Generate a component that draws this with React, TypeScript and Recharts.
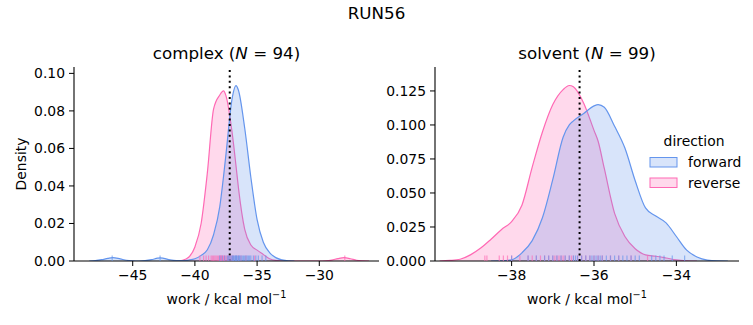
import React from 'react';
import { ComposedChart, Area, Scatter, XAxis, YAxis, ReferenceLine } from 'recharts';

const FONT = '"DejaVu Sans", sans-serif';
const BLUE = '#6495ED';
const PINK = '#FF69B4';

// complex leg: KDE curves
const complexX = [
  -48.5, -48, -47.5, -47, -46.6, -46, -45.5, -45, -44.5, -44, -43.5, -43, -42.8, -42.5, -42, -41.5,
  -41, -40.5, -40, -39.5, -39, -38.5, -38, -37.7, -37.5, -37, -36.7, -36.5, -36, -35.5, -35, -34.5,
  -34, -33.5, -33, -32.5, -32, -31, -30, -29.5, -29, -28.5, -28, -27.5, -27, -26.5, -26,
];
const complexForward = [
  0, 0.0002, 0.0007, 0.0014, 0.0018, 0.0011, 0.0004, 0.0001, 0, 0.0002, 0.0007, 0.0015, 0.0017, 0.0014, 0.0006, 0.0002,
  0.0002, 0.0005, 0.0012, 0.003, 0.006, 0.014, 0.029, 0.045, 0.057, 0.087, 0.0935, 0.091, 0.071, 0.0445, 0.022, 0.01,
  0.0045, 0.0018, 0.0006, 0.0001, 0, null, null, null, null, null, null, null, null, null, null,
];
const complexReverse = [
  null, null, null, null, null, null, null, null, null, null, null, null, null, null, null, 0,
  0.0004, 0.002, 0.0075, 0.02, 0.047, 0.081, 0.0885, 0.0907, 0.088, 0.068, 0.051, 0.039, 0.017, 0.0085, 0.0058, 0.0035,
  0.0012, 0.0003, 0.0001, 0, 0, 0, 0, 0.0001, 0.0005, 0.0013, 0.0018, 0.0012, 0.0004, 0.0001, 0,
];
const complexForwardRug = [
  -46.65, -42.8, -38.0, -37.8, -37.6, -37.4, -37.3, -37.2, -37.1, -37.0, -36.95, -36.9, -36.8, -36.75, -36.7,
  -36.65, -36.6, -36.5, -36.45, -36.4, -36.3, -36.2, -36.1, -36.0, -35.9, -35.8, -35.7, -35.6, -35.5, -35.3,
  -35.1, -34.9, -34.6, -34.3,
];
const complexReverseRug = [
  -39.6, -39.3, -39.1, -38.9, -38.7, -38.6, -38.5, -38.4, -38.3, -38.2, -38.1, -38.0, -37.95, -37.9, -37.85,
  -37.8, -37.7, -37.65, -37.6, -37.5, -37.4, -37.3, -37.2, -37.1, -37.0, -36.9, -36.7, -36.5, -36.3, -35.9,
  -35.2, -27.95,
];
const complexMean = -37.2;
const complexXTicks = [-45, -40, -35, -30];
const complexYTicks = [0, 0.02, 0.04, 0.06, 0.08, 0.1];

// solvent leg
const solventX = [
  -39.75, -39.5, -39.25, -39, -38.75, -38.5, -38.25, -38, -37.75, -37.5, -37.25, -37, -36.75, -36.6, -36.5, -36.25,
  -36, -35.9, -35.75, -35.5, -35.25, -35, -34.75, -34.5, -34.25, -34, -33.75, -33.5, -33.25, -33, -32.75,
];
const solventForward = [
  null, null, null, null, null, 0, 0.0001, 0.0008, 0.006, 0.015, 0.032, 0.06, 0.091, 0.1, 0.103, 0.1085,
  0.114, 0.115, 0.113, 0.099, 0.083, 0.059, 0.039, 0.033, 0.028, 0.018, 0.008, 0.003, 0.0007, 0.0001, 0,
];
const solventReverse = [
  0, 0.0004, 0.0013, 0.0045, 0.0095, 0.016, 0.023, 0.029, 0.041, 0.069, 0.095, 0.115, 0.126, 0.129, 0.128, 0.116,
  0.096, 0.088, 0.068, 0.035, 0.018, 0.009, 0.0045, 0.0035, 0.0022, 0.0008, 0.0002, 0, null, null, null,
];
const solventForwardRug = [
  -38.0, -37.6, -37.4, -37.2, -37.1, -37.0, -36.9, -36.8, -36.7, -36.6, -36.5, -36.45, -36.4, -36.3, -36.2,
  -36.1, -36.05, -36.0, -35.95, -35.9, -35.85, -35.8, -35.7, -35.6, -35.5, -35.4, -35.3, -35.2, -35.1, -35.0,
  -34.9, -34.6, -34.5, -34.4, -34.3, -34.1, -33.8,
];
const solventReverseRug = [
  -38.65, -38.6, -38.3, -38.2, -38.1, -38.0, -37.8, -37.6, -37.5, -37.4, -37.3, -37.2, -37.1, -37.0, -36.95,
  -36.9, -36.85, -36.8, -36.75, -36.7, -36.6, -36.55, -36.5, -36.4, -36.3, -36.2, -36.1, -36.0, -35.9, -35.8,
  -35.6, -35.4, -35.1, -34.7,
];
const solventMean = -36.35;
const solventXTicks = [-38, -36, -34];
const solventYTicks = [0, 0.025, 0.05, 0.075, 0.1, 0.125];

const minus = (v: number) => (v < 0 ? '\u2212' + Math.abs(v) : String(v));

function makeTable(xs: number[], fwd: (number | null)[], rev: (number | null)[]) {
  return xs.map((x, i) => ({ x, forward: fwd[i], reverse: rev[i] }));
}

const rugShape = (color: string) => (props: any) => (
  <line x1={props.cx} x2={props.cx} y1={props.cy} y2={props.cy - 5.5} stroke={color} strokeOpacity={0.65} strokeWidth={1.2} />
);

interface PanelProps {
  left: number;
  width: number;
  yAxisWidth: number;
  rightMargin: number;
  xDomain: [number, number];
  yDomain: [number, number];
  xTicks: number[];
  yTicks: number[];
  decimals: number;
  table: { x: number; forward: number | null; reverse: number | null }[];
  rugF: number[];
  rugR: number[];
  mean: number;
}

function Panel(p: PanelProps) {
  const tick = { fontSize: 13.9, fill: '#000', fontFamily: FONT };
  return (
    <div style={{ position: 'absolute', left: p.left, top: 0 }}>
      <ComposedChart
        width={p.width}
        height={325}
        data={p.table}
        margin={{ top: 67, right: p.rightMargin, bottom: 0, left: 0 }}
      >
        <Area type="monotone" dataKey="reverse" stroke={PINK} strokeWidth={1.2} fill={PINK} fillOpacity={0.25} connectNulls isAnimationActive={false} />
        <Area type="monotone" dataKey="forward" stroke={BLUE} strokeWidth={1.2} fill={BLUE} fillOpacity={0.25} connectNulls isAnimationActive={false} />
        <Scatter data={p.rugR.map((x) => ({ x, y: 0 }))} dataKey="y" shape={rugShape(PINK)} isAnimationActive={false} />
        <Scatter data={p.rugF.map((x) => ({ x, y: 0 }))} dataKey="y" shape={rugShape(BLUE)} isAnimationActive={false} />
        <ReferenceLine x={p.mean} stroke="#000" strokeWidth={2} strokeDasharray="2 3.4" />
        <XAxis
          type="number"
          dataKey="x"
          domain={p.xDomain}
          allowDataOverflow
          ticks={p.xTicks}
          tickFormatter={minus}
          height={64}
          tickSize={5}
          tickMargin={4}
          tick={tick}
          stroke="#000"
          tickLine={{ stroke: '#000' }}
          axisLine={{ stroke: '#000', strokeWidth: 1.1 }}
        />
        <YAxis
          type="number"
          domain={p.yDomain}
          allowDataOverflow
          ticks={p.yTicks}
          tickFormatter={(v: number) => v.toFixed(p.decimals)}
          width={p.yAxisWidth}
          tickSize={5}
          tickMargin={4}
          tick={tick}
          stroke="#000"
          tickLine={{ stroke: '#000' }}
          axisLine={{ stroke: '#000', strokeWidth: 1.1 }}
        />
      </ComposedChart>
    </div>
  );
}

export default function App() {
  const label = { fontFamily: FONT, fontSize: 13.9, fill: '#000' };
  const title = { fontFamily: FONT, fontSize: 16.7, fill: '#000' };
  return (
    <div style={{ position: 'absolute', left: 0, top: 0, width: 753, height: 325, background: '#fff', overflow: 'hidden' }}>
      <Panel
        left={0}
        width={390}
        yAxisWidth={74}
        rightMargin={11}
        xDomain={[-49.72, -25.2]}
        yDomain={[0, 0.1034]}
        xTicks={complexXTicks}
        yTicks={complexYTicks}
        decimals={2}
        table={makeTable(complexX, complexForward, complexReverse)}
        rugF={complexForwardRug}
        rugR={complexReverseRug}
        mean={complexMean}
      />
      <Panel
        left={380}
        width={373}
        yAxisWidth={55}
        rightMargin={14}
        xDomain={[-39.86, -32.48]}
        yDomain={[0, 0.1426]}
        xTicks={solventXTicks}
        yTicks={solventYTicks}
        decimals={3}
        table={makeTable(solventX, solventForward, solventReverse)}
        rugF={solventForwardRug}
        rugR={solventReverseRug}
        mean={solventMean}
      />
      <svg width={753} height={325} style={{ position: 'absolute', left: 0, top: 0, pointerEvents: 'none' }}>
        <text x={376.5} y={19} textAnchor="middle" {...title}>RUN56</text>
        <text x={226.5} y={59} textAnchor="middle" {...title}>
          complex (<tspan fontStyle="italic">N</tspan> = 94)
        </text>
        <text x={587} y={59} textAnchor="middle" {...title}>
          solvent (<tspan fontStyle="italic">N</tspan> = 99)
        </text>
        <text x={26} y={164} textAnchor="middle" transform="rotate(-90 26 164)" {...label}>Density</text>
        <text x={226.5} y={304} textAnchor="middle" {...label}>
          work / kcal mol<tspan dy={-6} fontSize={9.7}>{'\u22121'}</tspan>
        </text>
        <text x={587} y={304} textAnchor="middle" {...label}>
          work / kcal mol<tspan dy={-6} fontSize={9.7}>{'\u22121'}</tspan>
        </text>
        <text x={694} y={146} textAnchor="middle" {...label}>direction</text>
        <rect x={650} y={157.5} width={27} height={9.5} fill={BLUE} fillOpacity={0.25} stroke={BLUE} strokeWidth={1} />
        <text x={688} y={167} {...label}>forward</text>
        <rect x={650} y={178} width={27} height={9.5} fill={PINK} fillOpacity={0.25} stroke={PINK} strokeWidth={1} />
        <text x={688} y={187.5} {...label}>reverse</text>
      </svg>
    </div>
  );
}
